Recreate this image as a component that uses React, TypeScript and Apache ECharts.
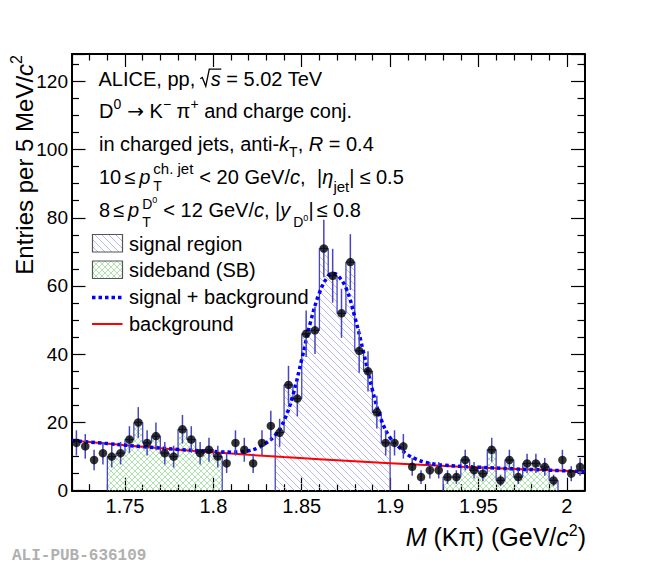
import { useEffect, useRef } from 'react';
import * as echarts from 'echarts';

const FONT = '"Liberation Sans", Arial, Helvetica, sans-serif';
const ERR = '#4646c0';

// bin centres, 5 MeV/c2 bins from 1.72 to 2.01 GeV/c2
const massBins = [
  1.7225, 1.7275, 1.7325, 1.7375, 1.7425, 1.7475, 1.7525, 1.7575, 1.7625, 1.7675,
  1.7725, 1.7775, 1.7825, 1.7875, 1.7925, 1.7975, 1.8025, 1.8075, 1.8125, 1.8175,
  1.8225, 1.8275, 1.8325, 1.8375, 1.8425, 1.8475, 1.8525, 1.8575, 1.8625, 1.8675,
  1.8725, 1.8775, 1.8825, 1.8875, 1.8925, 1.8975, 1.9025, 1.9075, 1.9125, 1.9175,
  1.9225, 1.9275, 1.9325, 1.9375, 1.9425, 1.9475, 1.9525, 1.9575, 1.9625, 1.9675,
  1.9725, 1.9775, 1.9825, 1.9875, 1.9925, 1.9975, 2.0025, 2.0075,
];
const binWidth = 0.005;

const counts = [
  14, 13, 9, 11, 10, 11, 15, 20, 14, 16,
  11, 10, 18, 15, 11, 12, 10, 8, 14, 12,
  8, 14, 19, 17, 31, 27, 46, 47, 71, 63,
  52, 67, 41, 35, 23, 14, 14, 13, 7, 4,
  6, 6, 4, 4, 9, 6, 5, 12, 3, 9,
  4, 8, 8, 7, 3, 9, 5, 7,
];

const errors = [
  3.7, 3.6, 3.0, 3.3, 3.2, 3.3, 3.9, 4.5, 3.7, 4.0,
  3.3, 3.2, 4.2, 3.9, 3.3, 3.5, 3.2, 2.8, 3.7, 3.5,
  2.8, 3.7, 4.4, 4.1, 5.6, 5.2, 6.8, 6.9, 8.4, 7.9,
  7.2, 8.2, 6.4, 5.9, 4.8, 3.7, 3.7, 3.6, 2.6, 2.0,
  2.4, 2.4, 2.0, 2.0, 3.0, 2.4, 2.2, 3.5, 1.7, 3.0,
  2.0, 2.8, 2.8, 2.6, 1.7, 3.0, 2.2, 2.6,
];

const signalRegion = [1.835, 1.9];
const sidebands = [[1.74, 1.805], [1.93, 1.995]];

// fit curves
const bkgFit = [
  [1.72, 14.7], [1.76, 12.86], [1.8, 11.26], [1.84, 9.85], [1.88, 8.62],
  [1.92, 7.55], [1.96, 6.6], [2.01, 5.6],
];
const sbFit = [
  [1.72, 14.7], [1.74, 13.8], [1.76, 12.9], [1.78, 12.1], [1.8, 11.5], [1.81, 11.3],
  [1.815, 11.4], [1.82, 11.7], [1.825, 12.5], [1.83, 14.0], [1.835, 16.3], [1.84, 20.5],
  [1.845, 28.0], [1.85, 38.5], [1.855, 49.5], [1.86, 58.0], [1.865, 63.0], [1.8675, 63.7],
  [1.87, 63.3], [1.875, 59.5], [1.88, 51.0], [1.885, 40.5], [1.89, 29.5], [1.895, 20.8],
  [1.9, 15.5], [1.905, 12.8], [1.91, 10.5], [1.915, 9.2], [1.92, 8.3], [1.93, 7.5],
  [1.95, 6.9], [1.97, 6.4], [1.99, 6.0], [2.01, 5.6],
];

const yTicks = { min: 0, max: 128, interval: 20 };
const xRange = { min: 1.72, max: 2.01 };

const hatch = (svg: string, size: number) => ({
  image: 'data:image/svg+xml;charset=utf-8,' + encodeURIComponent(svg),
  repeat: 'repeat',
  imageWidth: size,
  imageHeight: size,
});
const signalFill = hatch(
  '<svg xmlns="http://www.w3.org/2000/svg" width="7" height="7"><path d="M0 0L7 7M-1 6L1 8M6 -1L8 1" stroke="#a8a8e4" stroke-width="0.8" fill="none"/></svg>',
  7,
);
const sidebandFill = hatch(
  '<svg xmlns="http://www.w3.org/2000/svg" width="6" height="6"><path d="M0 0L6 6M-1 5L1 7M5 -1L7 1M6 0L0 6M-1 1L1 -1M5 7L7 5" stroke="#94da94" stroke-width="0.75" fill="none"/></svg>',
  6,
);

function stepData(lo: number, hi: number) {
  const pts: number[][] = [[lo, 0]];
  massBins.forEach((m, i) => {
    if (m > lo && m < hi) pts.push([m - binWidth / 2, counts[i]]);
  });
  pts.push([hi, pts[pts.length - 1][1]], [hi, 0]);
  return pts;
}

/* text runs with sub/superscripts */
let ctx: CanvasRenderingContext2D | null = null;
function measure(t: string, font: string) {
  if (!ctx) ctx = document.createElement('canvas').getContext('2d');
  ctx!.font = font;
  return ctx!.measureText(t).width;
}
type Run = { t: string; s?: number; dy?: number; dx?: number; it?: boolean; keep?: boolean; f?: string };

function textGroup(runs: Run[], base: number, x: number, y: number, align: 'left' | 'right' = 'left', rotation = 0, extra?: (items: any[]) => any[]) {
  let cx = 0;
  let held = 0;
  const items = runs.map((r) => {
    const size = r.s ?? base;
    const font = `${r.it ? 'italic ' : ''}${size}px ${r.f ?? FONT}`;
    cx += r.dx ?? 0;
    const w = measure(r.t, font);
    const it = { ...r, size, font, x: cx, w };
    if (r.keep) held = Math.max(held, w);
    else { cx += Math.max(held, w); held = 0; }
    return it;
  });
  const off = align === 'right' ? -cx : 0;
  items.forEach((it) => { it.x += off; });
  const children: any[] = items.map((it) => ({
    type: 'text',
    x: it.x,
    y: (it.dy ?? 0) - 0.35 * it.size,
    style: { text: it.t, font: it.font, fill: '#000', textAlign: 'left', textVerticalAlign: 'middle' },
  }));
  if (extra) children.push(...extra(items));
  return { type: 'group', x, y, rotation, children };
}

function buildOption(): echarts.EChartsOption {
  const tickStyle = { color: '#000', width: 1.2 };
  const frame = { show: true, onZero: false, lineStyle: { color: '#000', width: 2 } };
  const xBase: any = {
    type: 'value', ...xRange, splitNumber: 5,
    axisLine: frame,
    axisTick: { show: true, inside: true, length: 13, lineStyle: tickStyle },
    minorTick: { show: true, splitNumber: 5, length: 6.5, lineStyle: tickStyle },
    splitLine: { show: false },
  };
  const yBase: any = {
    type: 'value', ...yTicks,
    axisLine: frame,
    axisTick: { show: true, inside: true, length: 13.5, lineStyle: tickStyle },
    minorTick: { show: true, splitNumber: 4, length: 7, lineStyle: tickStyle },
    splitLine: { show: false },
  };

  const S = 14;
  const texts = [
    // the radical sign is drawn as a polyline in front of the italic s
    textGroup([{ t: 'ALICE, pp, ' }, { t: 's', it: true, dx: 10 }, { t: ' = 5.02 TeV' }], 20, 98.5, 85.7, 'left', 0,
      (items) => {
        const sx = items[1].x;
        return [{
          type: 'polyline',
          shape: { points: [[sx - 10.5, -7], [sx - 8.5, -8.2], [sx - 5, 0.5], [sx - 1.5, -16.5], [sx + items[1].w + 0.5, -16.5]] },
          style: { stroke: '#000', lineWidth: 1.3, fill: 'none' },
        }];
      }),
    textGroup([
      { t: 'D' }, { t: '0', s: S, dy: -9 }, { t: '→', dx: 6, f: '"DejaVu Sans"' }, { t: ' K' }, { t: '−', s: S, dy: -9 },
      { t: ' π' }, { t: '+', s: S, dy: -9 }, { t: ' and charge conj.' },
    ], 20, 99, 118.3),
    textGroup([{ t: 'in charged jets, anti-' }, { t: 'k', it: true }, { t: 'T', s: S, dy: 6 }, { t: ', ' }, { t: 'R', it: true }, { t: ' = 0.4' }], 20, 99, 151),
    textGroup([
      { t: '10' }, { t: '≤', dx: 3 }, { t: 'p', it: true, dx: 4 }, { t: 'T', s: S, dy: 7, dx: 3, keep: true }, { t: 'ch. jet', s: 15, dy: -11 },
      { t: '<', dx: 6 }, { t: ' 20 GeV/' }, { t: 'c', it: true }, { t: ', ' }, { t: '|', dx: 6 }, { t: 'η', it: true }, { t: 'jet', s: 15, dy: 7 },
      { t: '|' }, { t: '≤', dx: 5 }, { t: ' 0.5' },
    ], 20, 99, 184.3),
    textGroup([
      { t: '8' }, { t: '≤', dx: 3 }, { t: 'p', it: true, dx: 4 }, { t: 'T', s: S, dy: 10, dx: 3, keep: true }, { t: 'D', s: S, dy: -8 }, { t: '0', s: 9, dy: -14 },
      { t: '<', dx: 6 }, { t: ' 12 GeV/' }, { t: 'c', it: true }, { t: ', |' }, { t: 'y', it: true }, { t: 'D', s: S, dy: 10, dx: 3 }, { t: '0', s: 9, dy: 4 },
      { t: '|' }, { t: '≤', dx: 3 }, { t: ' 0.8' },
    ], 20, 99, 216.7),
  ];

  const legendText = (t: string, y: number) => ({
    type: 'text', x: 129, y,
    style: { text: t, font: `20px ${FONT}`, fill: '#000', textAlign: 'left', textVerticalAlign: 'middle' },
  });
  const legend = [
    { type: 'rect', shape: { x: 92.5, y: 234.5, width: 30, height: 17.5 }, style: { fill: signalFill, stroke: '#555', lineWidth: 1.2 } },
    { type: 'rect', shape: { x: 92.5, y: 261, width: 30, height: 17.5 }, style: { fill: sidebandFill, stroke: '#555', lineWidth: 1.2 } },
    { type: 'line', shape: { x1: 92, y1: 297.5, x2: 122.5, y2: 297.5 }, style: { stroke: '#0000ff', lineWidth: 3.5, lineDash: [3.5, 3] } },
    { type: 'line', shape: { x1: 92, y1: 324, x2: 122.5, y2: 324 }, style: { stroke: '#ff0000', lineWidth: 2 } },
    legendText('signal region', 243.5),
    legendText('sideband (SB)', 269.5),
    legendText('signal + background', 297),
    legendText('background', 323.5),
  ];

  const titles = [
    textGroup([{ t: 'M', it: true }, { t: ' (Kπ) (GeV/' }, { t: 'c', it: true }, { t: '2', s: 16, dy: -10 }, { t: ')' }], 25, 586, 546, 'right'),
    textGroup([{ t: 'Entries per 5 MeV/' }, { t: 'c', it: true }, { t: '2', s: 16, dy: -10 }], 24, 32.5, 55, 'right', Math.PI / 2),
    {
      type: 'text', x: 12, y: 556,
      style: { text: 'ALI-PUB-636109', font: `bold 16px "Liberation Mono", monospace`, fill: '#b0b0b0', textAlign: 'left', textVerticalAlign: 'middle' },
    },
  ];

  const histo = (lo: number, hi: number, fill: any) => ({
    type: 'line', step: 'end', data: stepData(lo, hi), symbol: 'none', z: 1,
    lineStyle: { color: ERR, width: 1.3 },
    areaStyle: { color: fill, opacity: 1 },
  });

  return {
    animation: false,
    backgroundColor: '#fff',
    grid: { left: 72, right: 65.5, top: 54, bottom: 75.3 },
    xAxis: [
      {
        ...xBase, position: 'bottom',
        axisLabel: {
          show: true, fontSize: 20, fontFamily: FONT, color: '#000', margin: 5,
          showMinLabel: false, showMaxLabel: false,
          formatter: (v: number) => String(Math.round(v * 100) / 100),
        },
      },
      { ...xBase, position: 'top', axisLabel: { show: false } },
    ],
    yAxis: [
      {
        ...yBase, position: 'left',
        axisLabel: { show: true, fontSize: 19, fontFamily: FONT, color: '#000', margin: 4, showMaxLabel: false },
      },
      { ...yBase, position: 'right', axisLabel: { show: false } },
    ],
    series: [
      ...sidebands.map(([lo, hi]) => histo(lo, hi, sidebandFill)),
      histo(signalRegion[0], signalRegion[1], signalFill),
      {
        type: 'line', data: bkgFit, smooth: true, symbol: 'none', z: 3,
        lineStyle: { color: '#ff0000', width: 2 },
      },
      {
        type: 'line', data: sbFit, smooth: 0.4, symbol: 'none', z: 4,
        lineStyle: { color: '#0000ff', width: 3.5, type: [3.5, 3], cap: 'butt' },
      },
      {
        type: 'custom', z: 5,
        data: massBins.map((m, i) => [m, counts[i], errors[i]]),
        encode: { x: 0, y: 1 },
        renderItem: (_p: any, api: any) => {
          const x = api.value(0); const y = api.value(1); const e = api.value(2);
          const a = api.coord([x, y + e]); const b = api.coord([x, y - e]);
          return { type: 'line', shape: { x1: a[0], y1: a[1], x2: b[0], y2: b[1] }, style: { stroke: ERR, lineWidth: 1.5 } };
        },
      },
      {
        type: 'scatter', z: 6, symbol: 'circle', symbolSize: 8.5,
        data: massBins.map((m, i) => [m, counts[i]]),
        itemStyle: { color: '#000' },
      },
    ] as any,
    graphic: { elements: [...texts, ...legend, ...titles] as any },
  };
}

export default function App() {
  const ref = useRef<HTMLDivElement>(null);
  useEffect(() => {
    if (!ref.current) return;
    const chart = echarts.init(ref.current, undefined, { renderer: 'svg' });
    chart.setOption(buildOption());
    return () => chart.dispose();
  }, []);
  return <div ref={ref} style={{ position: 'absolute', left: 0, top: 0, width: 650, height: 566, background: '#fff' }} />;
}
